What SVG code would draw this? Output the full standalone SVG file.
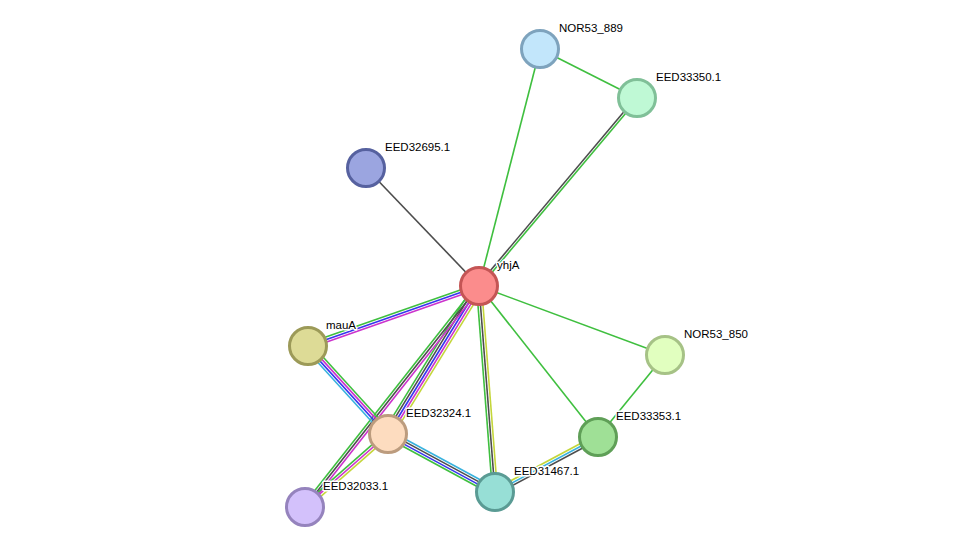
<svg xmlns="http://www.w3.org/2000/svg" width="975" height="553" viewBox="0 0 975 553">
<style>
line{stroke-width:1.6;fill:none}
.g{stroke:#3fbf3f}.k{stroke:#4d4d4d}.b{stroke:#3636ee}.m{stroke:#cc33cc}.y{stroke:#c4d63a}.c{stroke:#38b2de}
circle{stroke-width:3}
text{font-family:"Liberation Sans",Arial,sans-serif;font-size:11.5px;fill:#000;stroke:#fff;stroke-width:3;paint-order:stroke;stroke-linejoin:round}
</style>
<rect width="975" height="553" fill="#fff"/>
<g id="edges">
<line class="g" x1="479" y1="286" x2="540" y2="49"/>
<line class="g" x1="540" y1="49" x2="637" y2="98"/>
<line class="k" x1="479" y1="286" x2="366" y2="168"/>
<line class="g" x1="479" y1="286" x2="665" y2="355"/>
<line class="g" x1="479" y1="286" x2="598" y2="437"/>
<line class="g" x1="665" y1="355" x2="598" y2="437"/>
<g transform="translate(479,286) rotate(-49.96)"><line class="k" x1="0" y1="-1.2" x2="245.6" y2="-1.2"/><line class="g" x1="0" y1="1.2" x2="245.6" y2="1.2"/></g>
<g transform="translate(479,286) rotate(160.67)"><line class="g" x1="0" y1="2.5" x2="181.2" y2="2.5"/><line class="b" x1="0" y1="0" x2="181.2" y2="0"/><line class="m" x1="0" y1="-2.5" x2="181.2" y2="-2.5"/></g>
<g transform="translate(479,286) rotate(121.59)"><line class="g" x1="0" y1="5" x2="173.7" y2="5"/><line class="k" x1="0" y1="2.5" x2="173.7" y2="2.5"/><line class="b" x1="0" y1="0" x2="173.7" y2="0"/><line class="m" x1="0" y1="-2.5" x2="173.7" y2="-2.5"/><line class="y" x1="0" y1="-5" x2="173.7" y2="-5"/></g>
<g transform="translate(479,286) rotate(128.22)"><line class="g" x1="0" y1="2.5" x2="281.3" y2="2.5"/><line class="k" x1="0" y1="0" x2="281.3" y2="0"/><line class="m" x1="0" y1="-2.5" x2="281.3" y2="-2.5"/></g>
<g transform="translate(479,286) rotate(85.56)"><line class="g" x1="0" y1="2.5" x2="206.6" y2="2.5"/><line class="k" x1="0" y1="0" x2="206.6" y2="0"/><line class="y" x1="0" y1="-2.5" x2="206.6" y2="-2.5"/></g>
<g transform="translate(308,346) rotate(47.73)"><line class="g" x1="0" y1="-3.75" x2="118.9" y2="-3.75"/><line class="m" x1="0" y1="-1.25" x2="118.9" y2="-1.25"/><line class="b" x1="0" y1="1.25" x2="118.9" y2="1.25"/><line class="c" x1="0" y1="3.75" x2="118.9" y2="3.75"/></g>
<g transform="translate(388,434) rotate(28.46)"><line class="c" x1="0" y1="-3.75" x2="121.7" y2="-3.75"/><line class="k" x1="0" y1="-1.25" x2="121.7" y2="-1.25"/><line class="b" x1="0" y1="1.25" x2="121.7" y2="1.25"/><line class="g" x1="0" y1="3.75" x2="121.7" y2="3.75"/></g>
<g transform="translate(388,434) rotate(138.67)"><line class="g" x1="0" y1="2.5" x2="110.5" y2="2.5"/><line class="m" x1="0" y1="0" x2="110.5" y2="0"/><line class="y" x1="0" y1="-2.5" x2="110.5" y2="-2.5"/></g>
<g transform="translate(598,437) rotate(151.9)"><line class="y" x1="0" y1="2.5" x2="116.8" y2="2.5"/><line class="c" x1="0" y1="0" x2="116.8" y2="0"/><line class="k" x1="0" y1="-2.5" x2="116.8" y2="-2.5"/></g>
</g>
<g id="NOR53_889"><circle cx="540" cy="49" r="18.5" fill="#c2e6fb" stroke="#7ea3bd"/><text x="559" y="32">NOR53_889</text></g>
<g id="EED33350.1"><circle cx="637" cy="98" r="18.5" fill="#bff9d5" stroke="#80c098"/><text x="656" y="81">EED33350.1</text></g>
<g id="EED32695.1"><circle cx="366" cy="168" r="18.5" fill="#9ba5e0" stroke="#56619f"/><text x="385" y="151">EED32695.1</text></g>
<g id="yhjA"><circle cx="479" cy="286" r="18.5" fill="#fb8c8c" stroke="#c45555"/><text x="497" y="269">yhjA</text></g>
<g id="mauA"><circle cx="308" cy="346" r="18.5" fill="#dddb96" stroke="#9c9a58"/><text x="326" y="329">mauA</text></g>
<g id="NOR53_850"><circle cx="665" cy="355" r="18.5" fill="#e1ffbf" stroke="#a6c286"/><text x="684" y="338">NOR53_850</text></g>
<g id="EED32324.1"><circle cx="388" cy="434" r="18.5" fill="#fddcbf" stroke="#bc9c7e"/><text x="406" y="417">EED32324.1</text></g>
<g id="EED33353.1"><circle cx="598" cy="437" r="18.5" fill="#9fe096" stroke="#5f9f57"/><text x="616" y="420">EED33353.1</text></g>
<g id="EED31467.1"><circle cx="495" cy="492" r="18.5" fill="#97dfd6" stroke="#5a9b94"/><text x="514" y="475">EED31467.1</text></g>
<g id="EED32033.1"><circle cx="305" cy="507" r="18.5" fill="#d3c1fb" stroke="#9583bd"/><text x="323" y="490">EED32033.1</text></g>
</svg>
